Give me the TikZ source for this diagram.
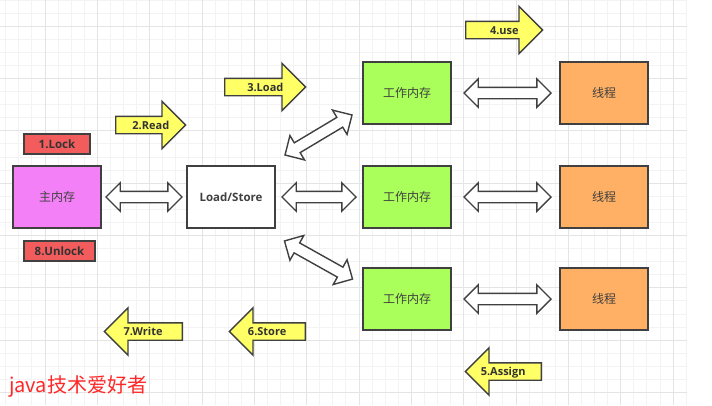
\documentclass[tikz,border=0pt]{standalone}
\usepackage{fontspec}
\setmainfont{Open Sans}
\newfontfamily\cjk{Noto Sans CJK SC}
\usetikzlibrary{shapes.arrows, positioning, calc}
\definecolor{edgegray}{RGB}{64,64,64}
\definecolor{gridminor}{RGB}{243,243,243}
\definecolor{gridmajor}{RGB}{228,228,228}
\definecolor{lockred}{RGB}{242,92,92}
\definecolor{mainpink}{RGB}{243,128,247}
\definecolor{workgreen}{RGB}{170,255,90}
\definecolor{threadorange}{RGB}{255,176,100}
\definecolor{flowyellow}{RGB}{255,255,102}
\definecolor{signred}{RGB}{255,40,40}
\tikzset{
    membox/.style={
        rectangle, draw=edgegray, line width=1.6pt, outer sep=0pt,
        minimum width=88pt, minimum height=62pt, inner sep=0pt,
        text=black!75, font=\cjk\fontsize{12}{14}\selectfont
    },
    tagbox/.style={
        rectangle, draw=edgegray, line width=1.6pt, fill=lockred, outer sep=0pt,
        minimum height=20pt, inner sep=0pt, text=black!80,
        text height=8.2pt, text depth=0pt,
        font=\bfseries\fontsize{11.5}{13}\selectfont
    },
    flow/.style={
        single arrow, draw=edgegray, line width=1.4pt, fill=flowyellow,
        inner sep=0pt, inner ysep=8pt, single arrow head extend=15pt
    },
    flowtext/.style={
        inner sep=0pt, text=black!80, text height=8.2pt, text depth=0pt,
        font=\bfseries\fontsize{11}{13}\selectfont
    },
    xchg/.style={
        double arrow, draw=edgegray, line width=1.4pt, fill=white,
        inner sep=0pt, inner ysep=5pt, double arrow head extend=8.5pt
    },
}

\begin{document}
\begin{tikzpicture}[x=1pt, y=-1pt]
    \useasboundingbox (0,0) rectangle (712,405);
    \fill[white] (0,0) rectangle (712,405);

    % background grid
    \foreach \i in {0,...,52}
        \draw[gridminor, line width=1pt] ({5.76+13.085*\i},0) -- ({5.76+13.085*\i},405);
    \foreach \j in {0,...,30}
        \draw[gridminor, line width=1pt] (0,{13.085*\j}) -- (686.7,{13.085*\j});
    \foreach \i in {3,7,...,51}
        \draw[gridmajor, line width=1pt] ({5.76+13.085*\i},0) -- ({5.76+13.085*\i},405);
    \foreach \j in {2,6,...,30}
        \draw[gridmajor, line width=1pt] (0,{13.085*\j}) -- (686.7,{13.085*\j});

    % main memory side
    \node[membox, fill=mainpink] (main) at (57,197) {主内存};
    \node[tagbox, minimum width=66pt, above=12pt of main] (lock) {1.Lock};
    \node[tagbox, minimum width=71pt, below=13pt of main.south west, anchor=north west, xshift=11pt] (unlock) {8.Unlock};
    \node[membox, fill=white, right=86pt of main, font=\bfseries\fontsize{11.5}{14}\selectfont] (ls) {Load/Store};

    % working memory and threads
    \node[membox, fill=workgreen, right=88pt of ls] (work2) {工作内存};
    \node[membox, fill=workgreen, above=42pt of work2] (work1) {工作内存};
    \node[membox, fill=workgreen, below=40pt of work2] (work3) {工作内存};
    \node[membox, fill=threadorange, right=109pt of work1] (thread1) {线程};
    \node[membox, fill=threadorange, right=109pt of work2] (thread2) {线程};
    \node[membox, fill=threadorange, right=109pt of work3] (thread3) {线程};

    % exchange arrows
    \path (main) -- node[xchg, minimum height=76pt] {} (ls);
    \path (ls) -- node[xchg, minimum height=74pt] {} (work2);
    \path ([shift={(5pt,8pt)}]ls.north east) -- node[xchg, sloped, minimum height=78pt] {} ([shift={(-6pt,12pt)}]work1.south west);
    \path ([shift={(6pt,-11pt)}]ls.south east) -- node[xchg, sloped, minimum height=78pt] {} ([shift={(-7pt,-13pt)}]work3.north west);
    \foreach \k in {1,2,3}
        \path (work\k) -- node[xchg, minimum height=87pt, xshift=2pt] {} (thread\k);

    % operation arrows
    \node[flow, minimum height=70pt, anchor=tail] (read) at (115,125) {};
    \node[flowtext] (readtxt) at ($(read.tail)!.5!(read.tip)$) {2.Read};
    \node[flow, minimum height=81pt, anchor=tail] (load) at (224,87) {};
    \node[flowtext] (loadtxt) at ($(load.tail)!.5!(load.tip)$) {3.Load};
    \node[flow, minimum height=77pt, anchor=tail] (use) at (465,30) {};
    \node[flowtext] (usetxt) at ($(use.tail)!.5!(use.tip)$) {4.use};
    \node[flow, shape border rotate=180, minimum height=76pt, anchor=tail] (assign) at (542,371.5) {};
    \node[flowtext] (assigntxt) at ($(assign.tail)!.5!(assign.tip)$) {5.Assign};
    \node[flow, shape border rotate=180, minimum height=76pt, anchor=tail] (store) at (306,331.5) {};
    \node[flowtext] (storetxt) at ($(store.tail)!.5!(store.tip)$) {6.Store};
    \node[flow, shape border rotate=180, minimum height=78pt, anchor=tail] (write) at (183,331.5) {};
    \node[flowtext] (writetxt) at ($(write.tail)!.5!(write.tip)$) {7.Write};

    % signature
    \node[font=\cjk\fontsize{20}{24}\selectfont, text=signred, inner sep=0pt, anchor=base west] (sign) at (9,392) {java技术爱好者};
\end{tikzpicture}
\end{document}
